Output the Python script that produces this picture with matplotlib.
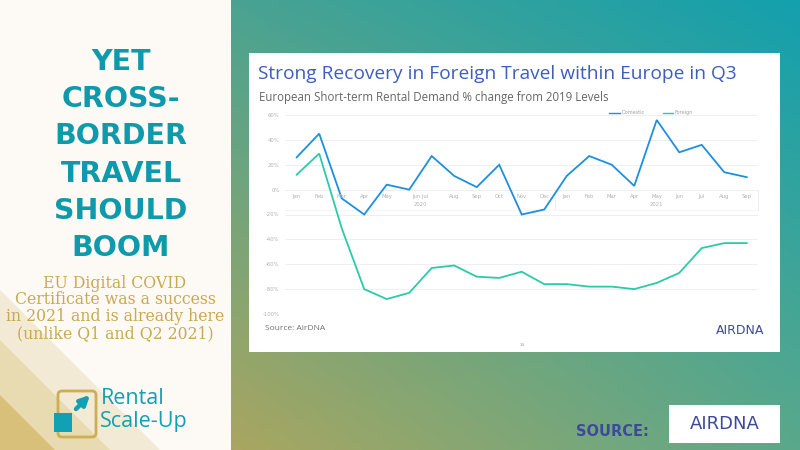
import numpy as np
import matplotlib
matplotlib.use("Agg")
import matplotlib.pyplot as plt
from matplotlib.patches import Rectangle, Polygon, FancyBboxPatch
from matplotlib.lines import Line2D
from matplotlib.colors import to_rgb

# ---------------- data ----------------
month_labels = ["Jan", "Feb", "Mar", "Apr", "May", "Jun Jul", "Aug", "Sep", "Oct", "Nov", "Dec",
                "Jan", "Feb", "Mar", "Apr", "May", "Jun", "Jul", "Aug", "Sep"]
month_label_pos = [0, 1, 2, 3, 4, 5.5, 7, 8, 9, 10, 11, 12, 13, 14, 15, 16, 17, 18, 19, 20]
year_labels = ["2020", "2021"]
year_label_pos = [5.5, 16]
domestic = [26, 45, -7, -20, 4, 0, 27, 11, 2, 20, -20, -16, 11, 27, 20, 3, 56, 30, 36, 14, 10]
foreign = [12, 29, -31, -80, -88, -83, -63, -61, -70, -71, -66, -76, -76, -78, -78, -80, -75, -67, -47, -43, -43]
y_ticks = [-100, -80, -60, -40, -20, 0, 20, 40, 60]
series_names = ["Domestic", "Foreign"]

headline = ["YET", "CROSS-", "BORDER", "TRAVEL", "SHOULD", "BOOM"]
note = ["EU Digital COVID", "Certificate was a success", "in 2021 and is already here", "(unlike Q1 and Q2 2021)"]
title = "Strong Recovery in Foreign Travel within Europe in Q3"
subtitle = "European Short-term Rental Demand % change from 2019 Levels"

# ---------------- figure ----------------
W, H = 800, 450
fig = plt.figure(figsize=(8, 4.5), dpi=100)
bg = fig.add_axes([0, 0, 1, 1], zorder=0)
bg.set_xlim(0, W)
bg.set_ylim(H, 0)
bg.axis("off")

# right gradient panel
tl, tr, bl, br = [np.array(to_rgb(c)) for c in ("#4AA391", "#14A0AD", "#A9A660", "#5AA88B")]
ny, nx = 60, 80
u = np.linspace(0, 1, nx)[None, :, None]
v = np.linspace(0, 1, ny)[:, None, None]
grad = (1 - v) * ((1 - u) * tl + u * tr) + v * ((1 - u) * bl + u * br)
bg.imshow(grad, extent=[231, W, H, 0], aspect="auto", interpolation="bilinear", zorder=0)

# left cream panel with stripes
bg.add_patch(Rectangle((0, 0), 231, H, fc="#FDFAF6", ec="none", zorder=1))
bg.add_patch(Polygon([(0, 290), (160, 450), (0, 450)], fc="#F2EAD4", ec="none", zorder=1))
bg.add_patch(Polygon([(0, 340), (110, 450), (0, 450)], fc="#E8DBB2", ec="none", zorder=1))
bg.add_patch(Polygon([(0, 395), (55, 450), (0, 450)], fc="#D8BF7A", ec="none", zorder=1))

teal = "#0E9AAB"
for i, line in enumerate(headline):
    bg.text(121, 62 + 37.2 * i, line, ha="center", va="center", fontsize=20.5,
            family="DejaVu Sans", fontweight="bold", color=teal, zorder=3)

gold = "#C9A950"
for i, line in enumerate(note):
    bg.text(115, 283 + 16.8 * i, line, ha="center", va="center", fontsize=11.3,
            family="DejaVu Serif", color=gold, zorder=3)

# Rental Scale-Up logo
logo_teal = "#12A0B4"
bg.add_patch(FancyBboxPatch((58, 391), 38, 46, boxstyle="round,pad=0,rounding_size=4",
                            fc="none", ec="#CDAE55", lw=2, zorder=3))
bg.add_patch(Rectangle((54, 413), 18, 19, fc=logo_teal, ec="none", zorder=4))
bg.annotate("", xy=(92, 393), xytext=(74, 411),
            arrowprops=dict(arrowstyle="-|>", color=logo_teal, lw=3.2, mutation_scale=14), zorder=4)
bg.text(101, 398, "Rental", ha="left", va="center", fontsize=15.5, family="Open Sans",
        color=logo_teal, zorder=3)
bg.text(100, 422, "Scale-Up", ha="left", va="center", fontsize=15.5, family="Open Sans",
        color=logo_teal, zorder=3)

# source bottom right
indigo = "#3D4A9C"
bg.text(576, 432, "SOURCE:", ha="left", va="center", fontsize=10.5, family="DejaVu Sans",
        fontweight="bold", color=indigo, zorder=3)
bg.add_patch(Rectangle((669, 405), 111, 38, fc="white", ec="none", zorder=2))
bg.text(725, 424, "AIRDNA", ha="center", va="center", fontsize=13, family="DejaVu Sans",
        color=indigo, zorder=3)

# white card
bg.add_patch(Rectangle((249, 53), 531, 299, fc="white", ec="none", zorder=2))
bg.text(258, 74, title, ha="left", va="center", fontsize=13.8, family="Open Sans",
        color="#3D5DBF", zorder=3)
bg.text(259, 97, subtitle, ha="left", va="center", fontsize=8.3, family="Open Sans",
        color="#666666", zorder=3)
bg.text(265, 328, "Source: AirDNA", ha="left", va="center", fontsize=6, family="Open Sans",
        color="#707070", zorder=3)
bg.text(740, 331, "AIRDNA", ha="center", va="center", fontsize=9, family="DejaVu Sans",
        color=indigo, zorder=3)
bg.text(522, 345, "14", ha="center", va="center", fontsize=3, color="#999999", zorder=3)

# ---------------- chart ----------------
dom_c, for_c = "#1C8FE2", "#2BCAA8"
L, R, T, B = 285, 758, 115, 314
ax = fig.add_axes([L / W, 1 - B / H, (R - L) / W, (B - T) / H], zorder=3)
ax.set_facecolor("none")
x = np.arange(len(domestic))
ax.plot(x, domestic, color=dom_c, lw=1.3, solid_joinstyle="miter")
ax.plot(x, foreign, color=for_c, lw=1.3, solid_joinstyle="miter")
ax.set_xlim(-0.52, 20.5)
ax.set_ylim(-100, 60)
ax.set_yticks(y_ticks)
ax.set_yticklabels([f"{t}%" for t in y_ticks], fontsize=3.8, color="#b0b0b0")
ax.tick_params(axis="y", length=0, pad=4)
ax.set_xticks([])
for s in ax.spines.values():
    s.set_visible(False)
ax.grid(axis="y", color="#ededed", lw=0.6)
ax.set_axisbelow(True)

for p, lab in zip(month_label_pos, month_labels):
    ax.annotate(lab, (p, 0), xytext=(0, -5), textcoords="offset points", ha="center",
                va="center", fontsize=3.8, color="#b0b0b0")
for p, lab in zip(year_label_pos, year_labels):
    ax.annotate(lab, (p, 0), xytext=(0, -11), textcoords="offset points", ha="center",
                va="center", fontsize=3.8, color="#b0b0b0")
# category box lines
bg.plot([555, 555], [190, 210], color="#ececec", lw=0.6, zorder=3)
bg.plot([758, 758], [190, 210], color="#ececec", lw=0.6, zorder=3)
bg.plot([285, 758], [210, 210], color="#f2f2f2", lw=0.6, zorder=3)

# legend
for (x0, x1, name, c) in [(609, 620, series_names[0], dom_c), (663, 673, series_names[1], for_c)]:
    bg.add_line(Line2D([x0, x1], [112.7, 112.7], color=c, lw=1.0, zorder=4))
    bg.text(x1 + 1.5, 112.7, name, ha="left", va="center", fontsize=3.5, color="#a0a0a0", zorder=4)

fig.savefig("out.png", dpi=100)
